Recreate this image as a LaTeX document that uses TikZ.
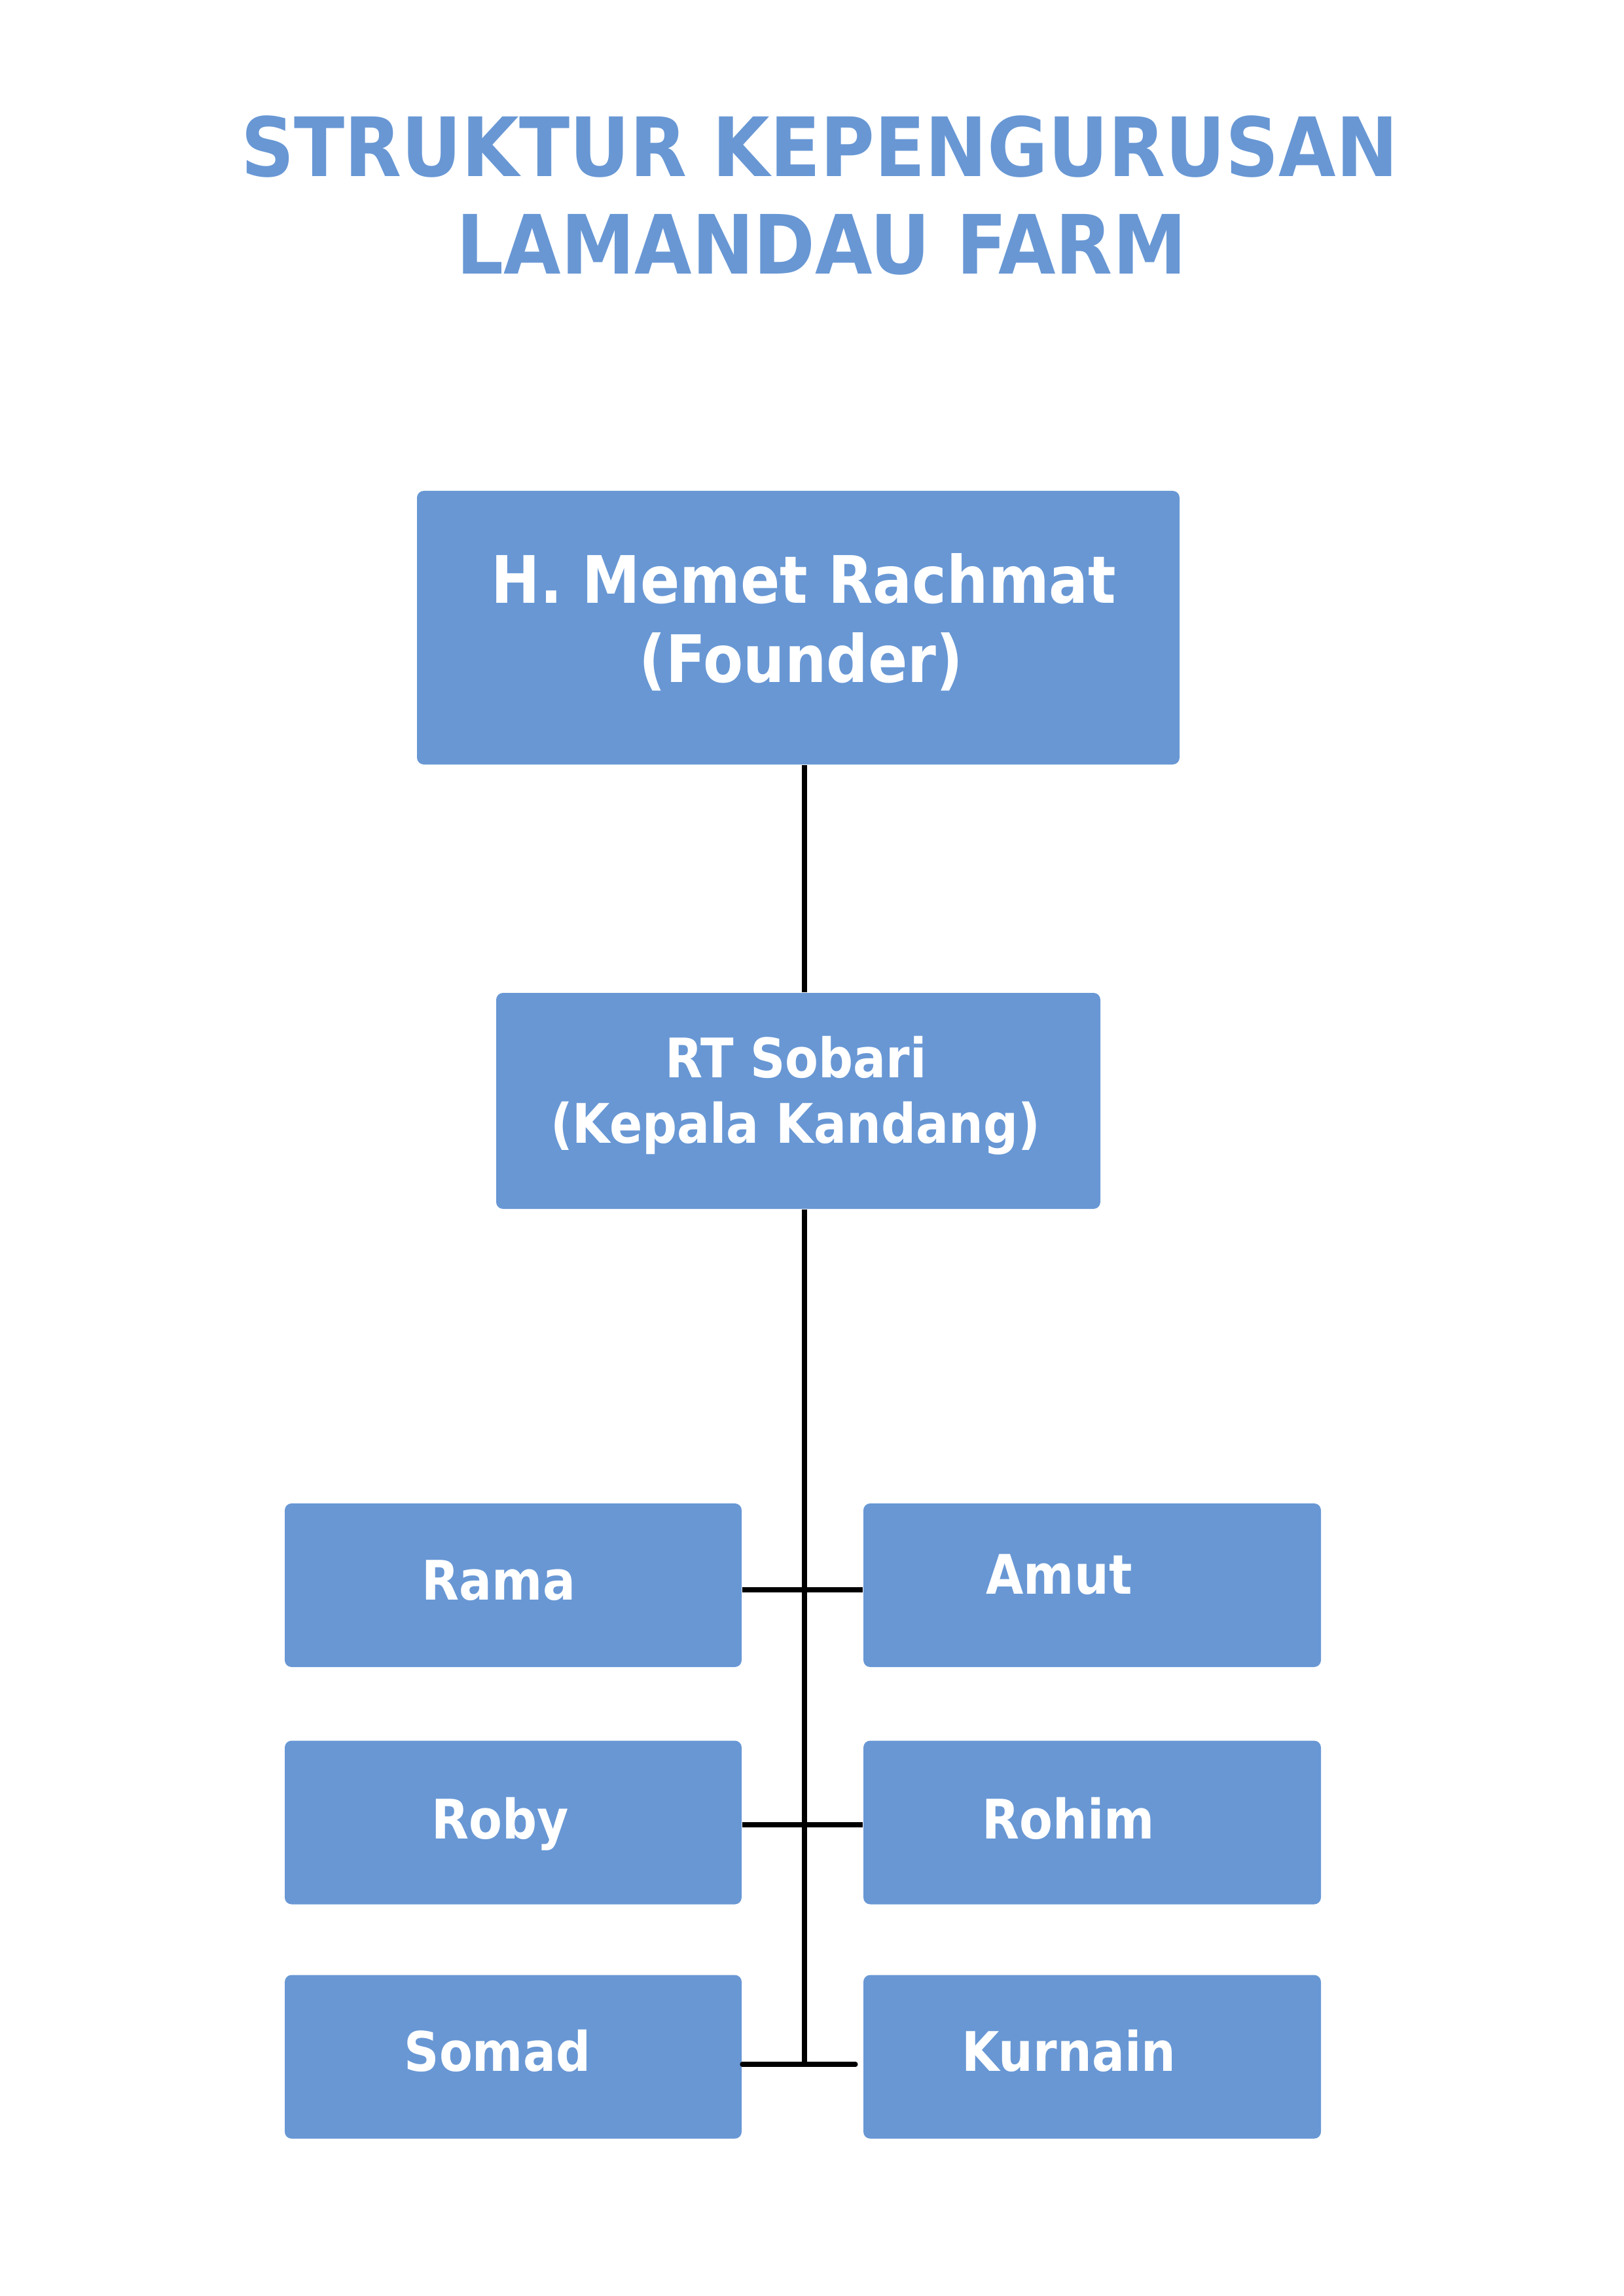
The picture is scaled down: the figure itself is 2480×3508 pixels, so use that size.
\documentclass[tikz,border=0pt]{standalone}
\usepackage{fontspec}
\setmainfont{DejaVu Sans}[FakeStretch=0.89]
\newfontfamily\ttlfont{DejaVu Sans}[FakeStretch=0.905]
\usetikzlibrary{calc}
\definecolor{boxblue}{RGB}{104,151,212}
\begin{document}
\begin{tikzpicture}[x=0.24pt,y=-0.24pt,
  box/.style={fill=boxblue, draw=none, rounded corners=2.5pt, inner sep=0pt},
  bw/.style={minimum width=#1*0.24pt},
  bh/.style={minimum height=#1*0.24pt},
  lbl/.style={anchor=base, inner sep=0pt, text=white, font=\bfseries\fontsize{#1}{#1}\selectfont},
  ttl/.style={anchor=base, inner sep=0pt, text=boxblue, font=\ttlfont\bfseries\fontsize{30}{30}\selectfont},
  conn/.style={draw=black, line width=1.7pt}]
\useasboundingbox (0,0) rectangle (2480,3508);
% title
\node[ttl] (t1) at (1252,270) {STRUKTUR KEPENGURUSAN};
\node[ttl] (t2) at (1255,419) {LAMANDAU FARM};
% boxes
\node[box,bw=1165,bh=418] (founder) at (1219.5,959) {};
\node[box,bw=923,bh=330] (rt) at (1219.5,1682) {};
\node[box,bw=698,bh=250] (rama) at (784,2422) {};
\node[box,bw=699,bh=250] (amut) at (1668.5,2422) {};
\node[box,bw=698,bh=250] (roby) at (784,2784.5) {};
\node[box,bw=699,bh=250] (rohim) at (1668.5,2784.5) {};
\node[box,bw=698,bh=250] (somad) at (784,3142.5) {};
\node[box,bw=699,bh=250] (kurnain) at (1668.5,3142.5) {};
% labels
\node[lbl=24] (founder1) at (1228,922) {H. Memet Rachmat};
\node[lbl=24] (founder2) at (1224,1042) {(Founder)};
\node[lbl=20] (rt1) at (1216,1646) {RT Sobari};
\node[lbl=20] (rt2) at (1215,1746) {(Kepala Kandang)};
\node[lbl=20] (ramal) at (762,2444) {Rama};
\node[lbl=20] (amutl) at (1618,2435) {Amut};
\node[lbl=20] (robyl) at (764,2809) {Roby};
\node[lbl=20] (rohiml) at (1632,2809) {Rohim};
\node[lbl=20] (somadl) at (760,3164) {Somad};
\node[lbl=20] (kurnainl) at (1633,3164) {Kurnain};
% connectors
\coordinate (sx) at (1229,0);
\coordinate (r1) at (0,2429);
\coordinate (r2) at (0,2788);
\coordinate (r3) at (1229,3154);
\coordinate (kend) at (1307,3154);
\draw[conn] (founder.south -| sx) -- (rt.north -| sx);
\draw[conn] (rt.south -| sx) -- (r3);
\draw[conn] (rama.east |- r1) -- (amut.west |- r1);
\draw[conn] (roby.east |- r2) -- (rohim.west |- r2);
\draw[conn,line cap=round] (somad.east |- r3) -- (kend);
\end{tikzpicture}
\end{document}
